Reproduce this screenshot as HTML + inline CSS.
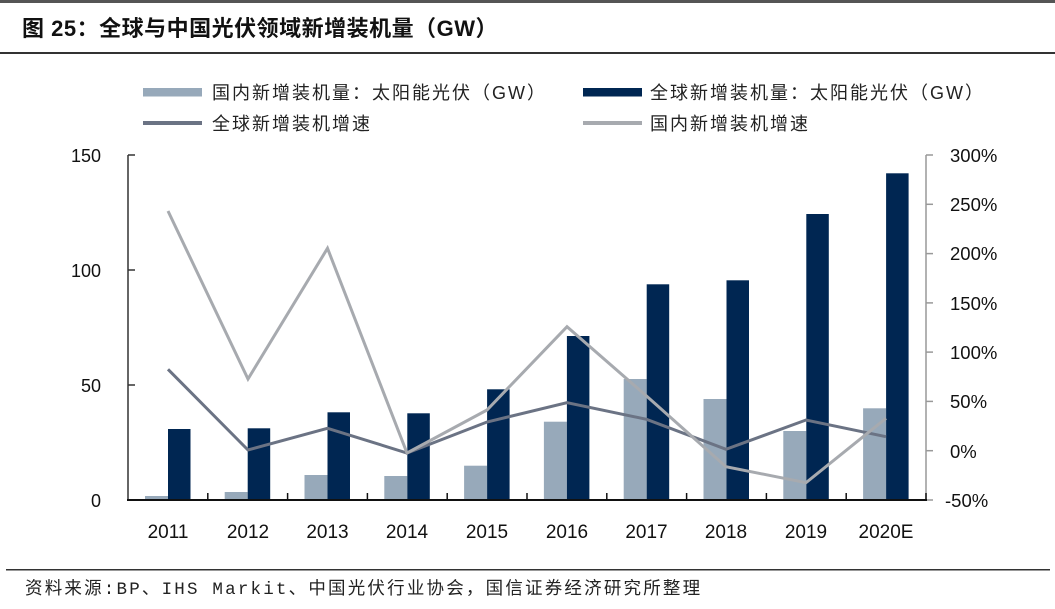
<!DOCTYPE html>
<html><head><meta charset="utf-8"><style>
html,body{margin:0;padding:0;background:#fff;}
svg{display:block;}
</style></head><body>
<svg width="1055" height="609" viewBox="0 0 1055 609" xmlns="http://www.w3.org/2000/svg">
<rect x="0" y="0" width="1055" height="609" fill="#fff"/>
<rect x="0" y="0" width="1055" height="3" fill="#555"/>
<text x="22" y="36" font-family="'Liberation Sans','Noto Sans CJK SC',sans-serif" font-size="22" font-weight="bold" fill="#111" letter-spacing="0.5">图 25：全球与中国光伏领域新增装机量（GW）</text>
<rect x="0" y="52" width="1055" height="2" fill="#333"/>

<!-- legend -->
<g font-family="'Liberation Sans','Noto Sans CJK SC',sans-serif" font-size="18" fill="#222" letter-spacing="2">
<rect x="143" y="88" width="59" height="8.5" fill="#97A9BA"/>
<text x="212" y="99">国内新增装机量：太阳能光伏（GW）</text>
<line x1="143" y1="123" x2="202" y2="123" stroke="#6B7384" stroke-width="4"/>
<text x="212" y="130">全球新增装机增速</text>
<rect x="583" y="88" width="59" height="8.5" fill="#002652"/>
<text x="650" y="99">全球新增装机量：太阳能光伏（GW）</text>
<line x1="583" y1="123" x2="642" y2="123" stroke="#A7AAAF" stroke-width="4"/>
<text x="650" y="130">国内新增装机增速</text>
</g>

<!-- bars -->
<g>
<rect x="145" y="496" width="23" height="4" fill="#97A9BA"/>
<rect x="168" y="429" width="22.5" height="71" fill="#002652"/>
<rect x="224.7" y="492" width="23" height="8" fill="#97A9BA"/>
<rect x="247.7" y="428.3" width="22.5" height="71.7" fill="#002652"/>
<rect x="304.5" y="475" width="23" height="25" fill="#97A9BA"/>
<rect x="327.5" y="412.3" width="22.5" height="87.7" fill="#002652"/>
<rect x="384.3" y="476" width="23" height="24" fill="#97A9BA"/>
<rect x="407.3" y="413.3" width="22.5" height="86.7" fill="#002652"/>
<rect x="464.1" y="465.7" width="23" height="34.3" fill="#97A9BA"/>
<rect x="487.1" y="389.3" width="22.5" height="110.7" fill="#002652"/>
<rect x="543.9" y="421.7" width="23" height="78.3" fill="#97A9BA"/>
<rect x="566.9" y="336" width="22.5" height="164" fill="#002652"/>
<rect x="623.7" y="379" width="23" height="121" fill="#97A9BA"/>
<rect x="646.7" y="284.3" width="22.5" height="215.7" fill="#002652"/>
<rect x="703.5" y="399" width="23" height="101" fill="#97A9BA"/>
<rect x="726.5" y="280.3" width="22.5" height="219.7" fill="#002652"/>
<rect x="783.3" y="431" width="23" height="69" fill="#97A9BA"/>
<rect x="806.3" y="214" width="22.5" height="286" fill="#002652"/>
<rect x="863.1" y="408.3" width="23" height="91.7" fill="#97A9BA"/>
<rect x="886.1" y="173.3" width="22.5" height="326.7" fill="#002652"/>
</g>

<!-- lines -->
<polyline fill="none" stroke="#6B7384" stroke-width="3" stroke-linejoin="miter" points="168,369.3 248,450 327.5,428.3 407,453 487,422 567,402.7 646.5,419.3 726,449.3 806,420 886,436.7"/>
<polyline fill="none" stroke="#A7AAAF" stroke-width="3" stroke-linejoin="miter" points="168,211 248,379 327.5,248.3 407,453 487,410 567,326.7 646.5,396 726,466.7 806,482.7 886,418.3"/>

<!-- axes -->
<g stroke="#333" stroke-width="1.5">
<line x1="128" y1="155" x2="128" y2="500.5"/>
<line x1="128" y1="155" x2="135" y2="155"/>
<line x1="128" y1="270" x2="135" y2="270"/>
<line x1="128" y1="385" x2="135" y2="385"/>
</g>
<g stroke="#999" stroke-width="1.5">
<line x1="926" y1="155" x2="926" y2="500.5"/>
<line x1="926" y1="155" x2="933" y2="155"/>
<line x1="926" y1="204.3" x2="933" y2="204.3"/>
<line x1="926" y1="253.6" x2="933" y2="253.6"/>
<line x1="926" y1="302.9" x2="933" y2="302.9"/>
<line x1="926" y1="352.1" x2="933" y2="352.1"/>
<line x1="926" y1="401.4" x2="933" y2="401.4"/>
<line x1="926" y1="450.7" x2="933" y2="450.7"/>
<line x1="926" y1="500" x2="933" y2="500"/>
</g>
<g stroke="#111" stroke-width="2">
<line x1="127" y1="500" x2="927" y2="500"/>
</g>
<g stroke="#111" stroke-width="1.5">
<line x1="207.8" y1="493" x2="207.8" y2="500"/>
<line x1="287.6" y1="493" x2="287.6" y2="500"/>
<line x1="367.4" y1="493" x2="367.4" y2="500"/>
<line x1="447.2" y1="493" x2="447.2" y2="500"/>
<line x1="527" y1="493" x2="527" y2="500"/>
<line x1="606.8" y1="493" x2="606.8" y2="500"/>
<line x1="686.6" y1="493" x2="686.6" y2="500"/>
<line x1="766.4" y1="493" x2="766.4" y2="500"/>
<line x1="846.2" y1="493" x2="846.2" y2="500"/>
<line x1="926" y1="493" x2="926" y2="500"/>
</g>

<!-- left labels -->
<g font-family="'Liberation Sans',sans-serif" font-size="18" fill="#111" text-anchor="end">
<text x="101" y="162">150</text>
<text x="101" y="277">100</text>
<text x="101" y="392">50</text>
<text x="101" y="507">0</text>
</g>
<!-- right labels -->
<g font-family="'Liberation Sans',sans-serif" font-size="18.5" fill="#111">
<text x="950" y="162">300%</text>
<text x="950" y="211">250%</text>
<text x="950" y="260">200%</text>
<text x="950" y="310">150%</text>
<text x="950" y="359">100%</text>
<text x="950" y="408">50%</text>
<text x="950" y="458">0%</text>
<text x="945" y="507">-50%</text>
</g>
<!-- x labels -->
<g font-family="'Liberation Sans',sans-serif" font-size="19" fill="#111" text-anchor="middle">
<text x="168" y="538">2011</text>
<text x="248" y="538">2012</text>
<text x="327.5" y="538">2013</text>
<text x="407" y="538">2014</text>
<text x="487" y="538">2015</text>
<text x="567" y="538">2016</text>
<text x="646.5" y="538">2017</text>
<text x="726" y="538">2018</text>
<text x="806" y="538">2019</text>
<text x="886" y="538">2020E</text>
</g>

<rect x="6" y="569" width="1044" height="1.5" fill="#333"/>
<text x="25" y="594" font-family="'Liberation Mono','Noto Sans CJK SC',monospace" font-size="17.5" fill="#222" letter-spacing="2.2">资料来源:BP、IHS Markit、中国光伏行业协会，国信证券经济研究所整理</text>
</svg>
</body></html>
